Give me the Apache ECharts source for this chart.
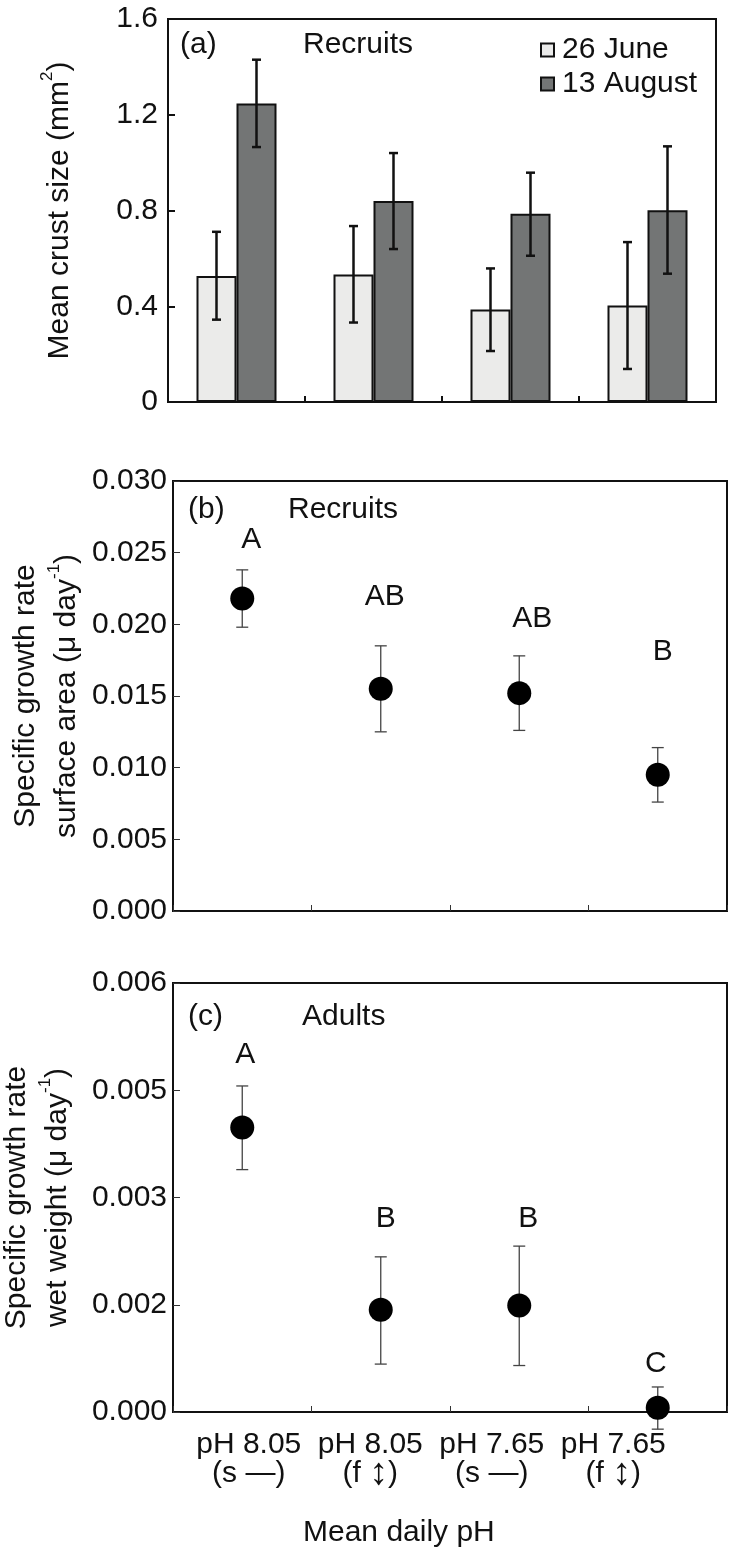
<!DOCTYPE html>
<html>
<head>
<meta charset="utf-8">
<script src="https://cdn.jsdelivr.net/npm/echarts@6/dist/echarts.min.js"></script>
<style>
html,body{margin:0;padding:0;background:#fff;}
#chart{width:732px;height:1552px;}
</style>
</head>
<body>
<div id="chart"></div>
<script>
// ---------- DATA ----------
const categories = ['pH 8.05\n(s —)', 'pH 8.05\n(f ↕)', 'pH 7.65\n(s —)', 'pH 7.65\n(f ↕)'];
const seriesNames = ['26 June', '13 August'];

// (a) Recruits – mean crust size (mm²)
const juneSize = [0.526, 0.533, 0.386, 0.403];
const juneLow  = [0.344, 0.332, 0.213, 0.138];
const juneHigh = [0.711, 0.735, 0.558, 0.668];
const augSize  = [1.247, 0.840, 0.786, 0.801];
const augLow   = [1.065, 0.639, 0.611, 0.536];
const augHigh  = [1.430, 1.040, 0.958, 1.068];

// (b) Recruits – specific growth rate, surface area
const rateB = [0.0218, 0.0155, 0.0152, 0.0095];
const lowB  = [0.0198, 0.0125, 0.0126, 0.0076];
const highB = [0.0238, 0.0185, 0.0178, 0.0114];
const lettersB = ['A', 'AB', 'AB', 'B'];

// (c) Adults – specific growth rate, wet weight
const rateC = [0.00398, 0.00143, 0.00149, 0.00006];
const lowC  = [0.00339, 0.00067, 0.00065, -0.00024];
const highC = [0.00456, 0.00217, 0.00232, 0.00035];
const lettersC = ['A', 'B', 'B', 'C'];

// tick labels
const ticksA = ['0', '0.4', '0.8', '1.2', '1.6'];
const ticksB = ['0.000', '0.005', '0.010', '0.015', '0.020', '0.025', '0.030'];
const ticksC = ['0.000', '0.002', '0.003', '0.005', '0.006'];

// ---------- LAYOUT / STYLE ----------
const FONT = '"Liberation Sans", Arial, sans-serif';
const INK = '#111';
const letterPosB = [0.0259, 0.0219, 0.0204, 0.0181];
const letterDxB = [9, 4, 13, 5];
const letterPosC = [0.00499, 0.0027, 0.0027, 0.00068];
const letterDxC = [3, 5, 9, -2];

const chart = echarts.init(document.getElementById('chart'), null, {renderer: 'canvas'});

function errItem(dx, capHalf, color, width) {
  return function (params, api) {
    const x = api.value(0);
    const pLo = api.coord([x, api.value(1)]);
    const pHi = api.coord([x, api.value(2)]);
    const cx = pLo[0] + dx;
    const st = {stroke: color, lineWidth: width};
    return {
      type: 'group',
      children: [
        {type: 'line', shape: {x1: cx, y1: pLo[1], x2: cx, y2: pHi[1]}, style: st},
        {type: 'line', shape: {x1: cx - capHalf, y1: pLo[1], x2: cx + capHalf, y2: pLo[1]}, style: st},
        {type: 'line', shape: {x1: cx - capHalf, y1: pHi[1], x2: cx + capHalf, y2: pHi[1]}, style: st}
      ]
    };
  };
}

function gridCfg(l, t, w, h) {
  return {left: l, top: t, width: w, height: h, show: true, borderColor: INK, borderWidth: 2,
          backgroundColor: 'transparent', containLabel: false, outerBoundsMode: 'none'};
}

function catAxis(gi, tickColor, tickWidth) {
  return {
    type: 'category', gridIndex: gi, data: categories, boundaryGap: true,
    axisLine: {show: true, lineStyle: {color: INK, width: 2}},
    axisTick: {show: true, inside: true, length: 6, alignWithLabel: false, lineStyle: {color: tickColor, width: tickWidth}},
    axisLabel: {show: false}, splitLine: {show: false}
  };
}

function valAxis(gi, max, interval, ticks, name, nameGap, margin, tickColor, tickWidth) {
  return {
    type: 'value', gridIndex: gi, min: 0, max: max, interval: interval,
    axisLine: {show: true, lineStyle: {color: INK, width: 2}},
    axisTick: {show: true, inside: true, length: 7, lineStyle: {color: tickColor, width: tickWidth}},
    axisLabel: {fontSize: 30, color: INK, fontFamily: FONT, margin: margin,
                formatter: function (v, i) { return ticks[i]; }},
    splitLine: {show: false},
    name: name, nameLocation: 'middle', nameRotate: 90, nameGap: nameGap, nameMoveOverlap: false,
    nameTextStyle: {
      fontFamily: FONT, color: INK, fontSize: 30, lineHeight: 41,
      rich: {
        n: {fontFamily: FONT, color: INK, fontSize: 30, lineHeight: 41},
        s: {fontFamily: FONT, color: INK, fontSize: 17, lineHeight: 26, verticalAlign: 'top'}
      }
    }
  };
}

function titleCfg(text, left, top) {
  return {text: text, left: left, top: top, padding: 0,
          textStyle: {fontSize: 30, fontWeight: 'normal', color: INK, fontFamily: FONT}};
}

function letterSeries(ai, pos, dx, letters) {
  return {
    type: 'scatter', xAxisIndex: ai, yAxisIndex: ai, z: 7, clip: false, silent: true,
    symbol: 'circle', symbolSize: 2, itemStyle: {color: 'rgba(255,255,255,0)', opacity: 1},
    label: {show: true, position: 'inside', fontSize: 30, color: INK, opacity: 1, fontFamily: FONT,
            formatter: p => letters[p.dataIndex]},
    emphasis: {disabled: true},
    data: pos.map((v, i) => ({value: [i, v], label: {offset: [dx[i], 0]}}))
  };
}

const option = {
  animation: false,
  backgroundColor: '#fff',
  textStyle: {fontFamily: FONT},
  title: [
    titleCfg('(a)', 180, 30), titleCfg('Recruits', 303, 30),
    titleCfg('(b)', 188, 495), titleCfg('Recruits', 288, 495),
    titleCfg('(c)', 188, 1002), titleCfg('Adults', 302, 1002),
    titleCfg('Mean daily pH', 303, 1518)
  ],
  legend: {
    orient: 'vertical', left: 540, top: 35, padding: 0, itemGap: 4,
    itemWidth: 13, itemHeight: 13, icon: 'rect',
    textStyle: {fontSize: 30, color: INK, fontFamily: FONT, padding: [0, 0, 0, 3]},
    data: [
      {name: seriesNames[0], itemStyle: {color: '#ebebea', borderColor: INK, borderWidth: 2}},
      {name: seriesNames[1], itemStyle: {color: '#737575', borderColor: INK, borderWidth: 2}}
    ]
  },
  grid: [
    gridCfg(168, 19, 548, 383),
    gridCfg(173, 481, 554, 430),
    gridCfg(173, 983, 554, 429),
    {left: 188, top: 983, width: 486, height: 429, show: false, containLabel: false, outerBoundsMode: 'none'}
  ],
  xAxis: [
    catAxis(0, INK, 2),
    catAxis(1, '#333', 1),
    catAxis(2, '#333', 1),
    {
      type: 'category', gridIndex: 3, data: categories, boundaryGap: true,
      axisLine: {show: false}, axisTick: {show: false}, splitLine: {show: false},
      axisLabel: {show: true, fontSize: 30, lineHeight: 29, color: INK, fontFamily: FONT, margin: 18, interval: 0,
                  formatter: v => v.replace('↕', '{ar|↕}'),
                  rich: {ar: {fontFamily: FONT, fontSize: 38, lineHeight: 29, color: INK}}}
    }
  ],
  yAxis: [
    valAxis(0, 1.6, 0.4, ticksA, '{n|Mean crust size (mm}{s|2}{n|)}', 88, 10, INK, 2),
    valAxis(1, 0.03, 0.005, ticksB, '{n|Specific growth rate}\n{n|surface area (μ day}{s|-1}{n|)}', 86, 6, '#333', 1),
    valAxis(2, 0.006, 0.0015, ticksC, '{n|Specific growth rate}\n{n|wet weight (μ day}{s|-1}{n|)}', 95, 6, '#333', 1),
    {type: 'value', gridIndex: 3, show: false, min: 0, max: 1}
  ],
  series: [
    // (a) bars
    {name: seriesNames[0], type: 'bar', xAxisIndex: 0, yAxisIndex: 0, data: juneSize,
     barWidth: 40, barGap: '0%', z: 2,
     itemStyle: {color: '#ebebea', borderColor: INK, borderWidth: 2, opacity: 1}},
    {name: seriesNames[1], type: 'bar', xAxisIndex: 0, yAxisIndex: 0, data: augSize,
     barWidth: 40, barGap: '0%', z: 2,
     itemStyle: {color: '#737575', borderColor: INK, borderWidth: 2, opacity: 1}},
    {type: 'custom', xAxisIndex: 0, yAxisIndex: 0, z: 5, clip: false,
     renderItem: errItem(-20, 4.5, INK, 2.5),
     data: juneLow.map((v, i) => [i, v, juneHigh[i]])},
    {type: 'custom', xAxisIndex: 0, yAxisIndex: 0, z: 5, clip: false,
     renderItem: errItem(20, 4.5, INK, 2.5),
     data: augLow.map((v, i) => [i, v, augHigh[i]])},

    // (b)
    {type: 'custom', xAxisIndex: 1, yAxisIndex: 1, z: 3, clip: false,
     renderItem: errItem(0, 6, '#444', 1.3),
     data: lowB.map((v, i) => [i, v, highB[i]])},
    {type: 'scatter', xAxisIndex: 1, yAxisIndex: 1, z: 6, clip: false,
     symbol: 'circle', symbolSize: 24, itemStyle: {color: '#000', opacity: 1},
     data: rateB.map((v, i) => [i, v])},
    letterSeries(1, letterPosB, letterDxB, lettersB),

    // (c)
    {type: 'custom', xAxisIndex: 2, yAxisIndex: 2, z: 3, clip: false,
     renderItem: errItem(0, 6, '#444', 1.3),
     data: lowC.map((v, i) => [i, v, highC[i]])},
    {type: 'scatter', xAxisIndex: 2, yAxisIndex: 2, z: 6, clip: false,
     symbol: 'circle', symbolSize: 24, itemStyle: {color: '#000', opacity: 1},
     data: rateC.map((v, i) => [i, v])},
    letterSeries(2, letterPosC, letterDxC, lettersC)
  ]
};

chart.setOption(option);
</script>
</body>
</html>
